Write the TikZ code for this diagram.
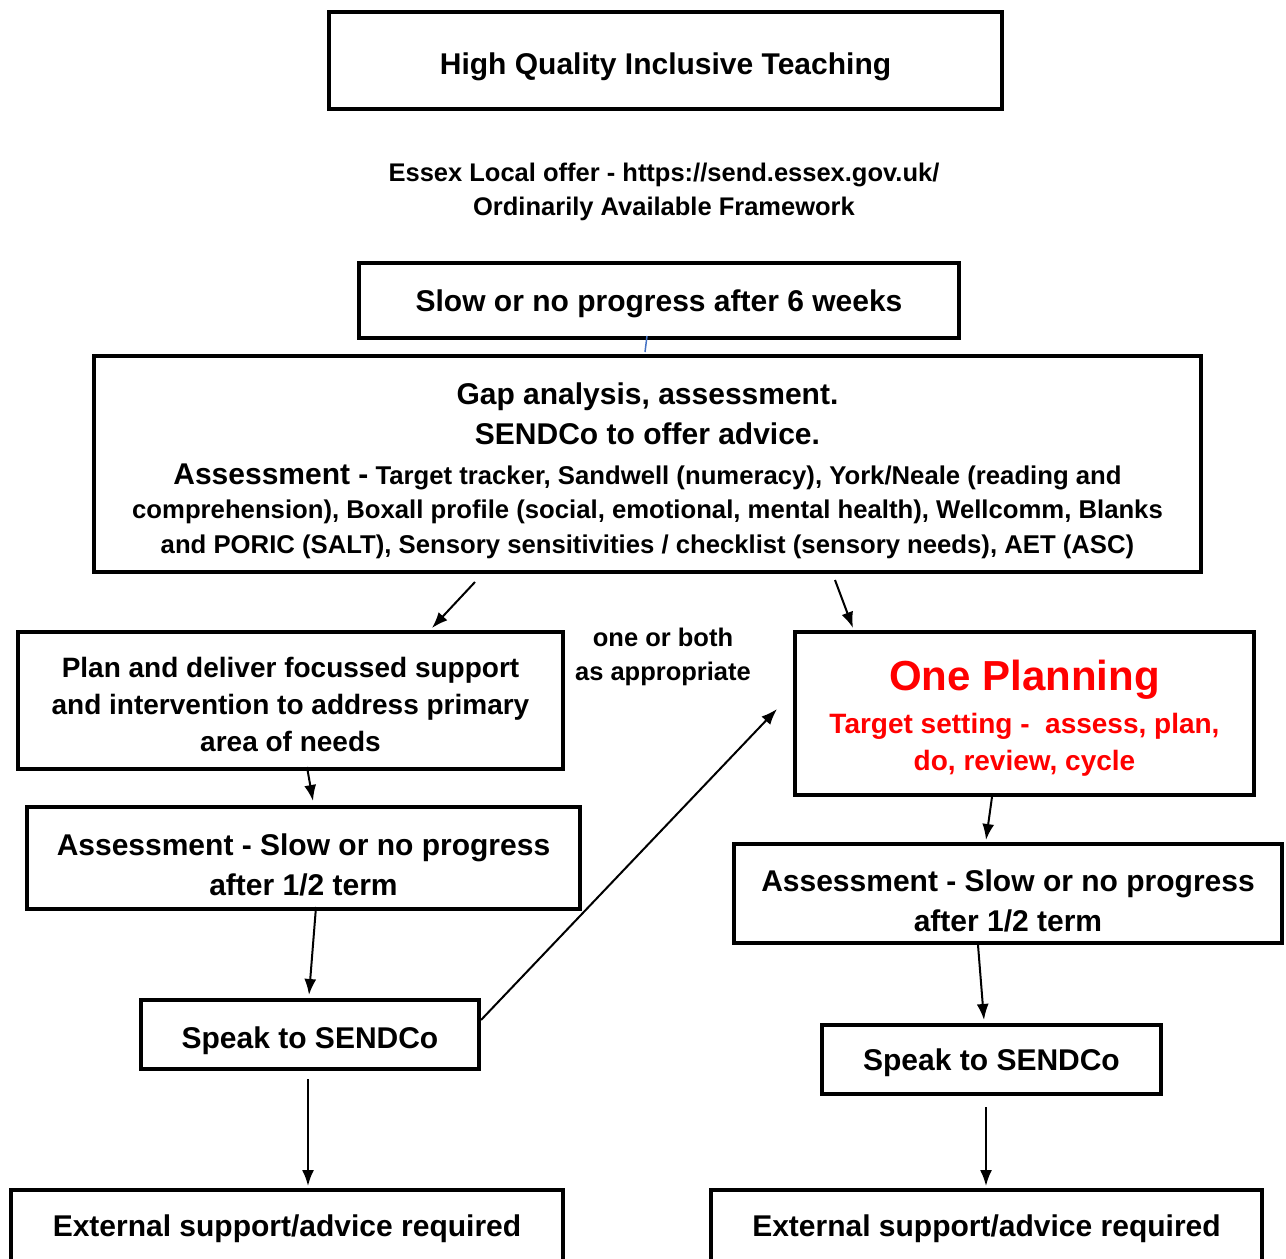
\documentclass[tikz,border=0pt]{standalone}
\usepackage{fontspec}
\setmainfont{Liberation Sans}
\usepackage{xcolor}
\usetikzlibrary{arrows.meta,calc}
\definecolor{planred}{HTML}{FF0000}
\definecolor{linkblue}{HTML}{4472C4}
\newcommand\sz[2]{\fontsize{#1}{#2}\selectfont\bfseries}
\newcommand\topgap[1]{\rule{0pt}{#1pt}}
\tikzset{
  box/.style={draw, line width=4pt, inner sep=0pt, text depth=-10pt, align=center, font=\sz{30}{40}},
  flow/.style={-{Latex[length=16pt,width=12pt]}, line width=2pt},
  link/.style={draw=linkblue, line width=1.5pt},
  note/.style={align=center, font=\sz{25.5}{34}}
}

\begin{document}
\begin{tikzpicture}[x=1pt,y=-1pt]
  \clip (0,0) rectangle (1286,1259);

  \node[box, minimum width=673pt, minimum height=97pt] (top) at (665.5,60.5) {\topgap{28}High Quality Inclusive Teaching};
  \node[note] (essex) at (664,192) {Essex Local offer - https://send.essex.gov.uk/\\Ordinarily Available Framework};
  \node[box, minimum width=600pt, minimum height=75pt] (slow) at (659,300.5) {Slow or no progress after 6 weeks};
  \node[box, minimum width=1107pt, minimum height=216pt, font=\sz{25.7}{34.5}] (gap) at (647.5,464)
    {{\sz{30}{40}\topgap{29}Gap analysis, assessment.}\\[5.5pt]
     {\sz{30}{40}SENDCo to offer advice.}\\[5.5pt]
     {\sz{30}{40}Assessment -} Target tracker, Sandwell (numeracy), York/Neale (reading and\\
     comprehension), Boxall profile (social, emotional, mental health), Wellcomm, Blanks\\
     and PORIC (SALT), Sensory sensitivities / checklist (sensory needs), AET (ASC)};

  \node[box, minimum width=545pt, minimum height=137pt, font=\sz{28}{37}] (plan) at (290.5,700.5)
    {\topgap{27}Plan and deliver focussed support\\and intervention to address primary\\area of needs};
  \node[note] (choice) at (663,657) {one or both\\as appropriate};
  \node[box, minimum width=459pt, minimum height=163pt, text=planred, font=\sz{28}{37}] (onep) at (1024.5,713.5)
    {{\sz{42}{50}\topgap{34}One Planning}\\[6pt]Target setting -\ \ assess, plan,\\do, review, cycle};

  \node[box, minimum width=553pt, minimum height=102pt] (assessL) at (303.5,858) {\topgap{35}Assessment - Slow or no progress\\after 1/2 term};
  \node[box, minimum width=338pt, minimum height=69pt] (speakL) at (310,1034.5) {\topgap{28}Speak to SENDCo};
  \node[box, minimum width=552pt, minimum height=72pt] (extL) at (287,1226) {External support/advice required};

  \node[box, minimum width=548pt, minimum height=99pt] (assessR) at (1008,893.5) {\topgap{35}Assessment - Slow or no progress\\after 1/2 term};
  \node[box, minimum width=339pt, minimum height=69pt] (speakR) at (991.5,1059.5) {Speak to SENDCo};
  \node[box, minimum width=551pt, minimum height=72pt] (extR) at (986.5,1226) {External support/advice required};

  \draw[link] ($(slow.south west)+(290,-4)$) -- ($(gap.north west)+(553,-2)$);
  \draw[flow] ($(gap.south west)+(383,8)$) -- ($(plan.north west)+(416,-2)$);
  \draw[flow] ($(gap.south west)+(743,6)$) -- ($(onep.north west)+(60,-2)$);
  \draw[flow] ($(plan.south west)+(291,-4)$) -- ($(assessL.north west)+(288,-4)$);
  \draw[flow] ($(assessL.south west)+(291,-4)$) -- ($(speakL.north west)+(170,-3)$);
  \draw[flow] ($(speakL.north east)+(0,22)$) -- ($(onep.west)+(-16,-4.5)$);
  \draw[flow] ($(speakL.south)+(-2,8)$) -- ($(extL.north west)+(299,-2)$);
  \draw[flow] ($(onep.south west)+(199,0)$) -- ($(assessR.north west)+(254,-2)$);
  \draw[flow] ($(assessR.south west)+(246,0)$) -- ($(speakR.north west)+(164,-3)$);
  \draw[flow] ($(speakR.south west)+(166,11)$) -- ($(extR.north west)+(277,-2)$);
\end{tikzpicture}
\end{document}
